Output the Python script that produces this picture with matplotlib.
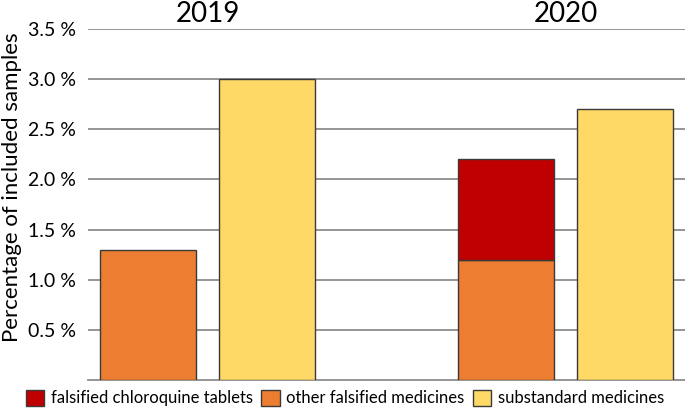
import numpy as np
import matplotlib.pyplot as plt
from matplotlib.patches import Patch

plt.rcParams['font.family'] = ['Lato', 'DejaVu Sans']

# Daten
years = ["2019", "2020"]
chloroquine = [0.0, 1.0]
other_falsified = [1.3, 1.2]
substandard = [3.0, 2.7]
yticks = [0.5, 1.0, 1.5, 2.0, 2.5, 3.0, 3.5]

c_red = "#C00000"
c_orange = "#ED7D31"
c_yellow = "#FFD966"
edge = "#3a3a3a"

fig = plt.figure(figsize=(6.85, 4.09), dpi=100)
ax = fig.add_axes([88/685, 1-380/409, 597/685, 351/409])

x = np.arange(len(years))
w = 0.268
off = 0.167

ax.bar(x - off, other_falsified, w, color=c_orange, edgecolor=edge, linewidth=1, zorder=3)
bars_red = [v if v > 0 else np.nan for v in chloroquine]
ax.bar(x - off, bars_red, w, bottom=other_falsified, color=c_red, edgecolor=edge, linewidth=1, zorder=3)
ax.bar(x + off, substandard, w, color=c_yellow, edgecolor=edge, linewidth=1, zorder=3)

ax.set_xlim(-0.334, 1.334)
ax.set_ylim(0, 3.5)
ax.set_yticks(yticks)
ax.set_yticklabels(["%.1f %%" % v for v in yticks], fontsize=14)
ax.set_xticks([])
ax.tick_params(axis='y', length=0, pad=9)
ax.grid(axis='y', color='#8c8c8c', linewidth=1.3, zorder=0)
for s in ['left', 'right', 'top']:
    ax.spines[s].set_visible(False)
ax.spines['bottom'].set_color('#8c8c8c')
ax.spines['bottom'].set_linewidth(1.3)

# Jahreszahlen oben
for i, yr in enumerate(years):
    ax.text(x[i], 3.565, yr, ha='center', va='baseline', fontsize=20)

fig.text(12/685, 1-187/409, "Percentage of included samples", rotation=90,
         ha='center', va='center', fontsize=16)

handles = [Patch(facecolor=c_red, edgecolor=edge, label="falsified chloroquine tablets"),
           Patch(facecolor=c_orange, edgecolor=edge, label="other falsified medicines"),
           Patch(facecolor=c_yellow, edgecolor=edge, label="substandard medicines")]
fig.legend(handles=handles, loc='center', bbox_to_anchor=(345/685, 1-398/409), ncol=3,
           frameon=False, fontsize=12, handlelength=1.1, handleheight=1.1,
           handletextpad=0.4, columnspacing=0.5, borderaxespad=0)

fig.savefig("out.png", dpi=100)
